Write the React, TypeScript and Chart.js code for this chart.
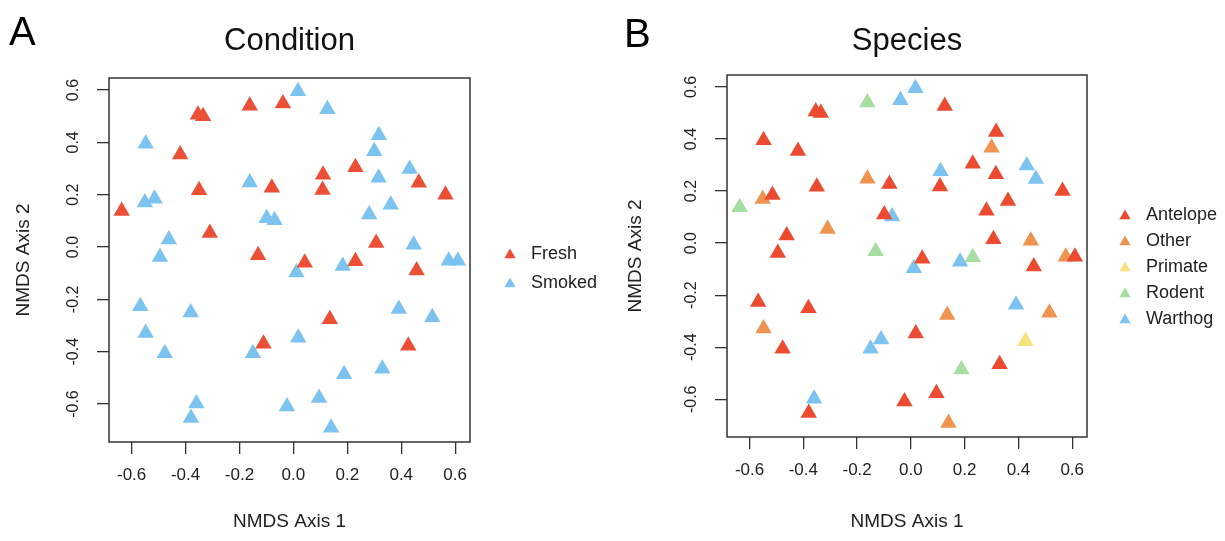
import React, { useEffect, useRef } from 'react';
import { Chart, registerables } from 'chart.js';

Chart.register(...registerables);

// ---- data (NMDS ordination, same samples in both panels) ----
const nmds1 = [
  0.017, -0.162, -0.039, -0.354, -0.335, 0.126, -0.548, -0.42, 0.317, 0.3,
  0.23, 0.316, 0.431, 0.465, 0.564, 0.11, 0.108, -0.162, -0.08, -0.35,
  -0.551, -0.515, -0.637, -0.099, -0.07, 0.281, 0.361, -0.31, -0.462, 0.307,
  0.446, -0.495, -0.131, 0.011, 0.042, 0.183, 0.23, 0.457, 0.576, 0.61,
  -0.568, -0.548, -0.477, -0.381, -0.36, -0.38, -0.15, -0.111, 0.018, 0.135,
  -0.024, 0.095, 0.14, 0.188, 0.33, 0.391, 0.426, 0.515,
];
const nmds2 = [
  0.595, 0.54, 0.549, 0.506, 0.5, 0.527, 0.395, 0.354, 0.427, 0.366,
  0.305, 0.265, 0.298, 0.246, 0.2, 0.276, 0.218, 0.247, 0.227, 0.217,
  0.17, 0.185, 0.138, 0.11, 0.102, 0.124, 0.162, 0.054, 0.029, 0.015,
  0.009, -0.038, -0.031, -0.097, -0.06, -0.072, -0.054, -0.09, -0.052, -0.052,
  -0.226, -0.328, -0.406, -0.25, -0.598, -0.653, -0.406, -0.37, -0.347, -0.276,
  -0.609, -0.577, -0.691, -0.486, -0.465, -0.237, -0.377, -0.268,
];
const condition = [
  'Smoked', 'Fresh', 'Fresh', 'Fresh', 'Fresh', 'Smoked', 'Smoked', 'Fresh', 'Smoked', 'Smoked',
  'Fresh', 'Smoked', 'Smoked', 'Fresh', 'Fresh', 'Fresh', 'Fresh', 'Smoked', 'Fresh', 'Fresh',
  'Smoked', 'Smoked', 'Fresh', 'Smoked', 'Smoked', 'Smoked', 'Smoked', 'Fresh', 'Smoked', 'Fresh',
  'Smoked', 'Smoked', 'Fresh', 'Smoked', 'Fresh', 'Smoked', 'Fresh', 'Fresh', 'Smoked', 'Smoked',
  'Smoked', 'Smoked', 'Smoked', 'Smoked', 'Smoked', 'Smoked', 'Smoked', 'Fresh', 'Smoked', 'Fresh',
  'Smoked', 'Smoked', 'Smoked', 'Smoked', 'Smoked', 'Smoked', 'Fresh', 'Smoked',
];
const species = [
  'Warthog', 'Rodent', 'Warthog', 'Antelope', 'Antelope', 'Antelope', 'Antelope', 'Antelope', 'Antelope', 'Other',
  'Antelope', 'Antelope', 'Warthog', 'Warthog', 'Antelope', 'Warthog', 'Antelope', 'Other', 'Antelope', 'Antelope',
  'Other', 'Antelope', 'Rodent', 'Antelope', 'Warthog', 'Antelope', 'Antelope', 'Other', 'Antelope', 'Antelope',
  'Other', 'Antelope', 'Rodent', 'Warthog', 'Antelope', 'Warthog', 'Rodent', 'Antelope', 'Other', 'Antelope',
  'Antelope', 'Other', 'Antelope', 'Antelope', 'Warthog', 'Antelope', 'Warthog', 'Warthog', 'Antelope', 'Other',
  'Antelope', 'Antelope', 'Other', 'Rodent', 'Antelope', 'Warthog', 'Primate', 'Other',
];

const conditionGroups = ['Fresh', 'Smoked'];
const conditionColors = ['#EB5037', '#7DC3F0'];
const speciesGroups = ['Antelope', 'Other', 'Primate', 'Rodent', 'Warthog'];
const speciesColors = ['#EB4B31', '#EF9450', '#F9E27E', '#A6DDA0', '#7DC3F0'];

const xTitle = 'NMDS Axis 1';
const yTitle = 'NMDS Axis 2';
const xLimits = [-0.684, 0.655];
const yLimits = [-0.745, 0.646];
const tickStep = 0.2;

const FONT = '"Liberation Sans", Arial, Helvetica, sans-serif';
const H = 541;

type PanelSpec = {
  letter: string;
  title: string;
  groups: string[];
  colors: string[];
  labels: string[];
  offset: number;
  width: number;
  box: { left: number; top: number; right: number; bottom: number };
  letterPos: [number, number];
  legend: { x: number; y0: number; step: number };
};

const panels: PanelSpec[] = [
  {
    letter: 'A',
    title: 'Condition',
    groups: conditionGroups,
    colors: conditionColors,
    labels: condition,
    offset: 0,
    width: 612,
    box: { left: 109, top: 78, right: 470, bottom: 442 },
    letterPos: [9, 45],
    legend: { x: 510, y0: 254, step: 29 },
  },
  {
    letter: 'B',
    title: 'Species',
    groups: speciesGroups,
    colors: speciesColors,
    labels: species,
    offset: 612,
    width: 613,
    box: { left: 115, top: 75, right: 475, bottom: 437 },
    letterPos: [12, 47],
    legend: { x: 513, y0: 215, step: 26 },
  },
];

function triangle(ctx: CanvasRenderingContext2D, x: number, y: number, r: number) {
  ctx.beginPath();
  let a = 0;
  ctx.moveTo(x + Math.sin(a) * r, y - Math.cos(a) * r);
  a += (2 * Math.PI) / 3;
  ctx.lineTo(x + Math.sin(a) * r, y - Math.cos(a) * r);
  a += (2 * Math.PI) / 3;
  ctx.lineTo(x + Math.sin(a) * r, y - Math.cos(a) * r);
  ctx.closePath();
  ctx.fill();
}

function Panel({ spec }: { spec: PanelSpec }) {
  const ref = useRef<HTMLCanvasElement>(null);

  useEffect(() => {
    const canvas = ref.current;
    if (!canvas) return;
    const { box } = spec;

    const datasets = spec.groups.map((g, gi) => ({
      label: g,
      data: nmds1
        .map((x, i) => ({ x, y: nmds2[i], g: spec.labels[i] }))
        .filter((p) => p.g === g)
        .map(({ x, y }) => ({ x, y })),
      pointStyle: 'triangle' as const,
      pointRadius: 9.5,
      pointHoverRadius: 9.5,
      pointBackgroundColor: spec.colors[gi],
      pointBorderColor: spec.colors[gi],
      pointBorderWidth: 0,
      showLine: false,
    }));

    const decor = {
      id: 'rDecor',
      afterDraw(chart: any) {
        const { ctx, chartArea: ca, scales } = chart;
        ctx.save();
        // plot box
        ctx.strokeStyle = '#333';
        ctx.lineWidth = 1.5;
        ctx.strokeRect(ca.left, ca.top, ca.right - ca.left, ca.bottom - ca.top);
        // rotated y tick labels (R style)
        ctx.fillStyle = '#222';
        ctx.font = `16px ${FONT}`;
        ctx.textAlign = 'center';
        ctx.textBaseline = 'middle';
        scales.y.ticks.forEach((t: any) => {
          const py = scales.y.getPixelForValue(t.value);
          ctx.save();
          ctx.translate(ca.left - 35, py);
          ctx.rotate(-Math.PI / 2);
          ctx.fillText(Number(t.value).toFixed(1), 0, 0);
          ctx.restore();
        });
        // title
        ctx.font = `31px ${FONT}`;
        ctx.textBaseline = 'alphabetic';
        ctx.fillStyle = '#111';
        ctx.fillText(spec.title, (ca.left + ca.right) / 2, 50);
        // panel letter
        ctx.textAlign = 'left';
        ctx.font = `40px ${FONT}`;
        ctx.fillStyle = '#000';
        ctx.fillText(spec.letter, spec.letterPos[0], spec.letterPos[1]);
        // legend
        ctx.font = `18px ${FONT}`;
        ctx.textBaseline = 'middle';
        spec.groups.forEach((g, gi) => {
          const y = spec.legend.y0 + gi * spec.legend.step;
          ctx.fillStyle = spec.colors[gi];
          triangle(ctx, spec.legend.x, y + 1, 6.5);
          ctx.fillStyle = '#222';
          ctx.fillText(g, spec.legend.x + 21, y);
        });
        ctx.restore();
      },
    };

    const gridOpts = {
      drawOnChartArea: false,
      drawTicks: true,
      tickLength: 12,
      color: '#333',
      lineWidth: 1.3,
    };

    const chart = new Chart(canvas, {
      type: 'scatter',
      data: { datasets },
      options: {
        responsive: false,
        animation: false,
        events: [],
        layout: {
          padding: { left: 0, top: box.top, right: spec.width - box.right, bottom: 0 },
        },
        plugins: {
          legend: { display: false },
          tooltip: { enabled: false },
          title: { display: false },
        },
        scales: {
          x: {
            type: 'linear',
            min: xLimits[0],
            max: xLimits[1],
            afterFit: (s: any) => {
              s.height = H - box.bottom;
            },
            ticks: {
              stepSize: tickStep,
              includeBounds: false,
              autoSkip: false,
              maxRotation: 0,
              minRotation: 0,
              padding: 11,
              color: '#222',
              font: { family: FONT, size: 17 },
              callback: (v: any) => Number(v).toFixed(1),
            },
            grid: gridOpts,
            border: { display: false },
            title: {
              display: true,
              text: xTitle,
              color: '#222',
              font: { family: FONT, size: 19 },
              padding: { top: 0, bottom: 8 },
            },
          },
          y: {
            type: 'linear',
            min: yLimits[0],
            max: yLimits[1],
            afterFit: (s: any) => {
              s.width = box.left;
            },
            ticks: {
              display: false,
              stepSize: tickStep,
              includeBounds: false,
            },
            grid: gridOpts,
            border: { display: false },
            title: {
              display: true,
              text: yTitle,
              color: '#222',
              font: { family: FONT, size: 19 },
              padding: { top: 12, bottom: 0 },
            },
          },
        },
      },
      plugins: [decor],
    } as any);

    return () => chart.destroy();
  }, [spec]);

  return (
    <canvas
      ref={ref}
      width={spec.width}
      height={H}
      style={{ position: 'absolute', left: spec.offset, top: 0, width: spec.width, height: H }}
    />
  );
}

export default function App() {
  return (
    <div style={{ position: 'fixed', left: 0, top: 0, width: 1225, height: H, background: '#fff' }}>
      {panels.map((p) => (
        <Panel key={p.letter} spec={p} />
      ))}
    </div>
  );
}
